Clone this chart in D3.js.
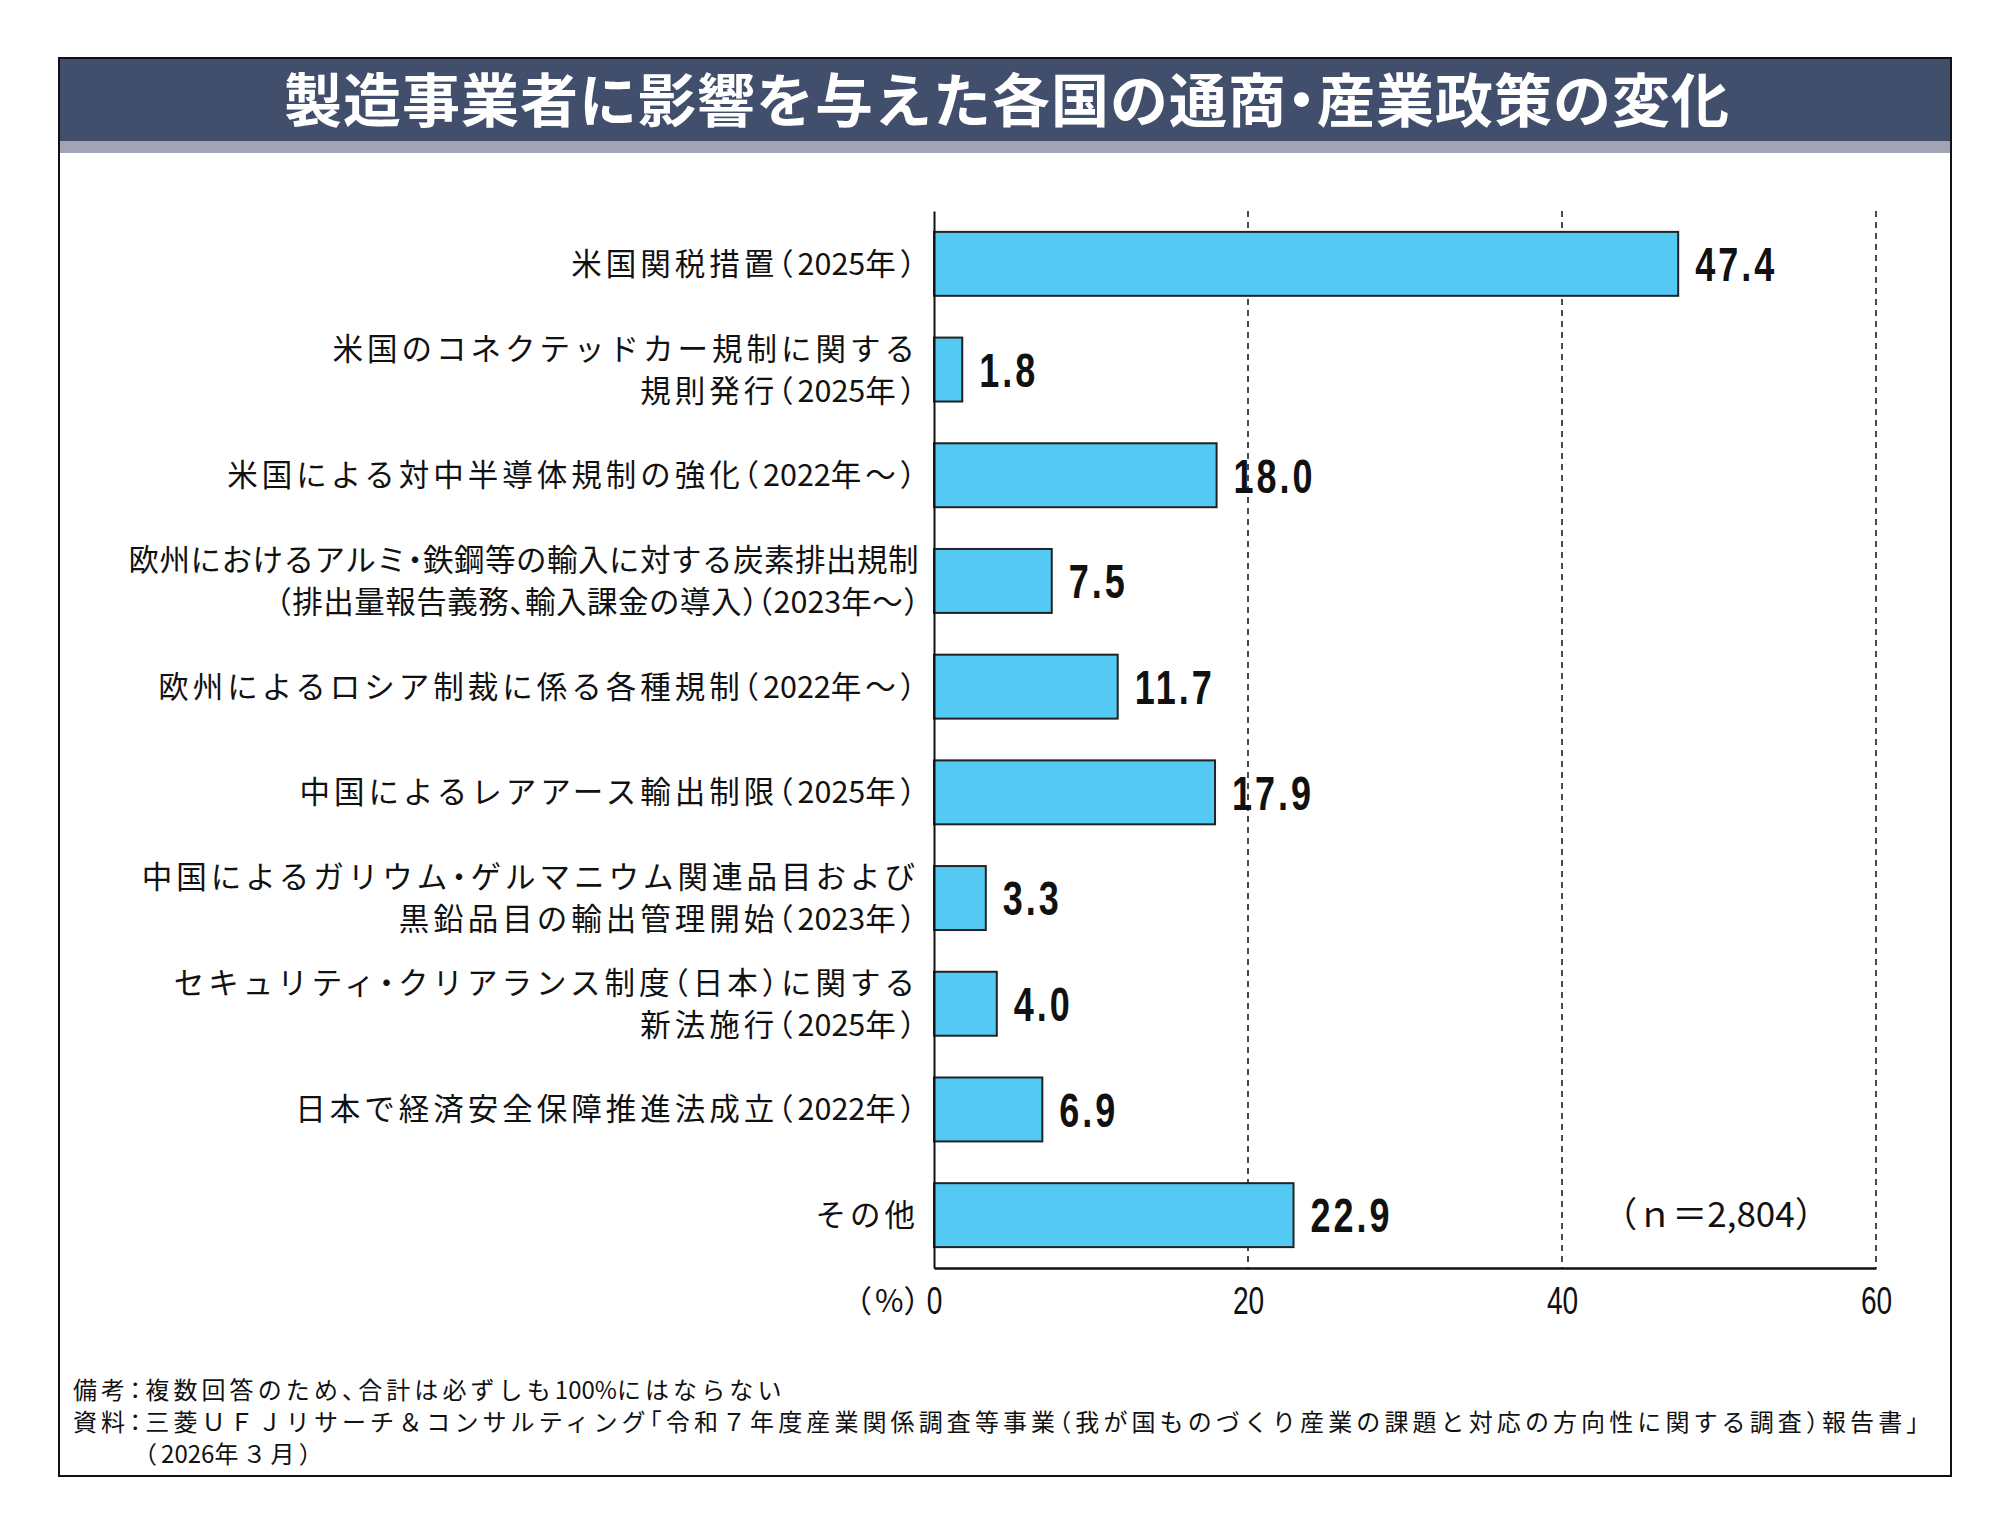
<!DOCTYPE html>
<html>
<head>
<meta charset="utf-8">
<script src="https://cdn.jsdelivr.net/npm/d3@7"></script>
<style>
  html, body { margin: 0; padding: 0; background: #fff; }
  svg { display: block; }
</style>
</head>
<body>
<div id="chart"></div>
<script>
// Chart data
const title = '製造事業者に影響を与えた各国の通商・産業政策の変化';

const categories = [
    ['米国関税措置（2025年）'],
    ['米国のコネクテッドカー規制に関する', '規則発行（2025年）'],
    ['米国による対中半導体規制の強化（2022年～）'],
    ['欧州におけるアルミ・鉄鋼等の輸入に対する炭素排出規制', '（排出量報告義務、輸入課金の導入）（2023年～）'],
    ['欧州によるロシア制裁に係る各種規制（2022年～）'],
    ['中国によるレアアース輸出制限（2025年）'],
    ['中国によるガリウム・ゲルマニウム関連品目および', '黒鉛品目の輸出管理開始（2023年）'],
    ['セキュリティ・クリアランス制度（日本）に関する', '新法施行（2025年）'],
    ['日本で経済安全保障推進法成立（2022年）'],
    ['その他']
];

const values = [47.4, 1.8, 18.0, 7.5, 11.7, 17.9, 3.3, 4.0, 6.9, 22.9];

const xTicks = [0, 20, 40, 60];

const notes = [
    '備考：複数回答のため、合計は必ずしも100%にはならない',
    '資料：三菱ＵＦＪリサーチ＆コンサルティング「令和７年度産業関係調査等事業（我が国ものづくり産業の課題と対応の方向性に関する調査）報告書」',
    '（2026年３月）'
];

const sampleNote = '（ｎ＝2,804）';
const unitLabel = '（%）';

// Layout
const W = 2008, H = 1535;
const frame = { left: 59, right: 1951, top: 58, bottom: 1476 };
const plot = { left: 934, right: 1876, top: 211, bottom: 1268 };
const jpFont = '"Noto Sans CJK JP", "Noto Sans", sans-serif';
const numFont = '"Liberation Sans", Arimo, Arial, sans-serif';
const punctRe = /^[（）「」、・：]$/;
const latinRe = /^[0-9A-Za-z.,%]+$/;

// Write a string as runs: half-width punctuation, tight digits, spaced kana/kanji
function addRuns(sel, str, spacing) {
    sel.selectAll('tspan').remove();
    str.split(/([（）「」、・：]|[0-9A-Za-z.,%]+)/).filter(s => s.length).forEach(part => {
        sel.append('tspan')
            .style('font-feature-settings', punctRe.test(part) ? '"halt"' : null)
            .style('letter-spacing', latinRe.test(part) ? '0px' : spacing + 'px')
            .text(part);
    });
}

const svg = d3.select('#chart')
    .append('svg')
    .attr('width', W)
    .attr('height', H);

svg.append('rect')
    .attr('width', W)
    .attr('height', H)
    .attr('fill', '#fff');

// Title band
svg.append('rect')
    .attr('x', frame.left)
    .attr('y', frame.top)
    .attr('width', frame.right - frame.left)
    .attr('height', 83)
    .attr('fill', '#414f6c');

svg.append('rect')
    .attr('x', frame.left)
    .attr('y', frame.top + 83)
    .attr('width', frame.right - frame.left)
    .attr('height', 12)
    .attr('fill', '#a3a3b6');

const titleText = svg.append('text')
    .attr('x', 1007)
    .attr('y', 101)
    .attr('dy', '0.36em')
    .attr('text-anchor', 'middle')
    .attr('fill', '#fff')
    .style('font-family', jpFont)
    .style('font-weight', 'bold')
    .style('font-size', '58px');
addRuns(titleText, title, 1);

// Frame border
svg.append('rect')
    .attr('x', frame.left)
    .attr('y', frame.top)
    .attr('width', frame.right - frame.left)
    .attr('height', frame.bottom - frame.top)
    .attr('fill', 'none')
    .attr('stroke', '#111')
    .attr('stroke-width', 2);

// Scales
const xScale = d3.scaleLinear()
    .domain([0, 60])
    .range([plot.left, plot.right]);

const yScale = d3.scaleBand()
    .domain(d3.range(categories.length))
    .range([plot.top, plot.bottom])
    .paddingInner(0.395)
    .paddingOuter(0.1975);

// Dashed gridlines
svg.append('g')
    .selectAll('line')
    .data(xTicks.filter(d => d > 0))
    .enter().append('line')
    .attr('x1', d => xScale(d))
    .attr('x2', d => xScale(d))
    .attr('y1', plot.top)
    .attr('y2', plot.bottom)
    .attr('stroke', '#111')
    .attr('stroke-width', 1.5)
    .attr('stroke-dasharray', '6,5');

// Bars
svg.append('g')
    .selectAll('rect')
    .data(values)
    .enter().append('rect')
    .attr('x', xScale(0))
    .attr('y', (d, i) => yScale(i))
    .attr('width', d => xScale(d) - xScale(0))
    .attr('height', yScale.bandwidth())
    .attr('fill', '#53c9f4')
    .attr('stroke', '#222')
    .attr('stroke-width', 2);

// Value labels (condensed)
svg.append('g')
    .selectAll('text')
    .data(values)
    .enter().append('text')
    .attr('transform', (d, i) => `translate(${xScale(d) + 17},${yScale(i) + yScale.bandwidth() / 2}) scale(0.75,1)`)
    .attr('dy', '0.36em')
    .attr('fill', '#111')
    .style('font-family', numFont)
    .style('font-weight', 'bold')
    .style('font-size', '48px')
    .style('letter-spacing', '4px')
    .text(d => d.toFixed(1));

// Axes
const xAxis = svg.append('g')
    .attr('transform', `translate(0,${plot.bottom})`)
    .call(d3.axisBottom(xScale).tickValues(xTicks).tickSize(0).tickSizeOuter(0).tickPadding(18));

xAxis.select('.domain')
    .attr('stroke', '#111')
    .attr('stroke-width', 2.5);

xAxis.selectAll('text')
    .attr('fill', '#111')
    .attr('transform', 'scale(0.72,1)')
    .style('font-family', numFont)
    .style('font-size', '39px');

const yAxis = svg.append('g')
    .attr('transform', `translate(${plot.left},0)`)
    .call(d3.axisLeft(yScale).tickSize(0).tickSizeOuter(0).tickFormat(''));

yAxis.select('.domain')
    .attr('stroke', '#111')
    .attr('stroke-width', 2);

// Category labels, one text per line; a label that is too wide is
// tightened (spacing first, then font size) as a block
const lineGap = 42;
const labelRight = plot.left - 15;
const labelMax = 798;
const labelG = svg.append('g');
categories.forEach((lines, i) => {
    const cy = yScale(i) + yScale.bandwidth() / 2;
    const texts = lines.map((line, j) => labelG.append('text')
        .attr('x', labelRight)
        .attr('y', cy + (j - (lines.length - 1) / 2) * lineGap)
        .attr('dy', '0.36em')
        .attr('text-anchor', 'end')
        .attr('fill', '#111')
        .style('font-family', jpFont));

    let size = 30.5, spacing = 4;
    const fit = () => {
        texts.forEach((t, j) => {
            t.style('font-size', size + 'px');
            addRuns(t, lines[j], spacing);
        });
        return d3.max(texts, t => t.node().getComputedTextLength());
    };
    let w = fit();
    while (w > labelMax && spacing > 0) {
        spacing = Math.max(0, spacing - 0.5);
        w = fit();
    }
    while (w > labelMax && size > 20) {
        size -= 0.2;
        w = fit();
    }
});

// Unit label and sample size
const unitText = svg.append('text')
    .attr('x', plot.left - 12)
    .attr('y', 1301)
    .attr('dy', '0.36em')
    .attr('text-anchor', 'end')
    .attr('fill', '#111')
    .style('font-family', jpFont)
    .style('font-size', '31px');
addRuns(unitText, unitLabel, 3);

svg.append('text')
    .attr('x', 1716)
    .attr('y', 1214)
    .attr('dy', '0.36em')
    .attr('text-anchor', 'middle')
    .attr('fill', '#111')
    .style('font-family', jpFont)
    .style('font-size', '35px')
    .text(sampleNote);

// Notes
const noteY = [1390, 1422, 1454];
const noteX = [73, 73, 145];
notes.forEach((note, i) => {
    const t = svg.append('text')
        .attr('x', noteX[i])
        .attr('y', noteY[i])
        .attr('dy', '0.36em')
        .attr('fill', '#111')
        .style('font-family', jpFont)
        .style('font-size', '24px');
    addRuns(t, note, 4.1);
});
</script>
</body>
</html>
